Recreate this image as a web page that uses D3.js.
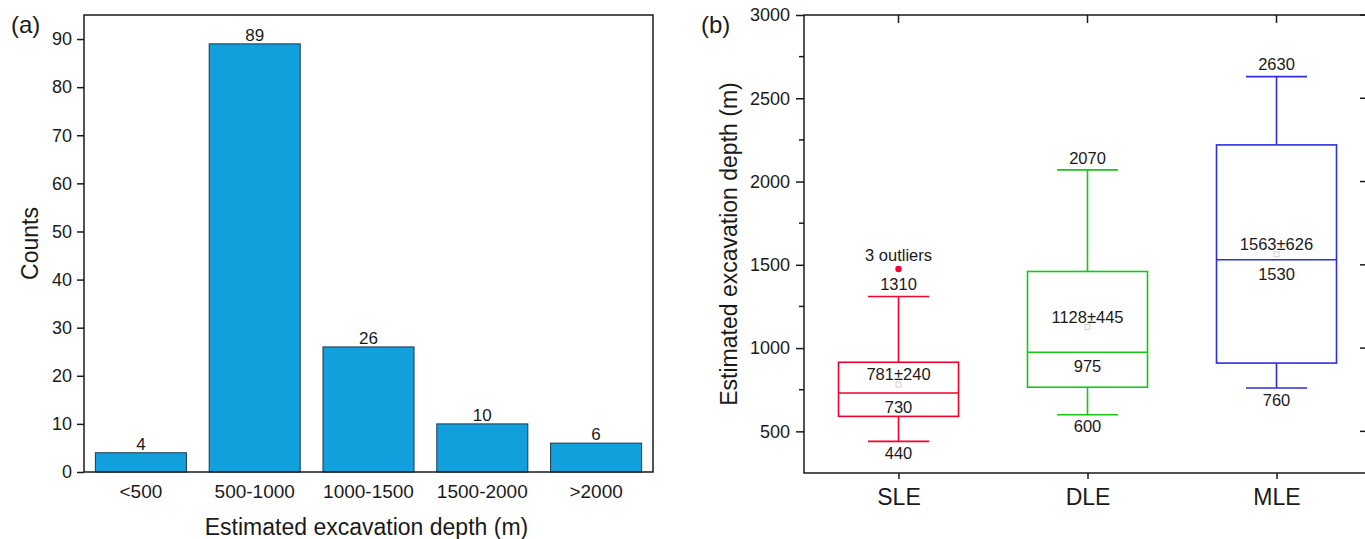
<!DOCTYPE html>
<html>
<head>
<meta charset="utf-8">
<script src="https://cdn.jsdelivr.net/npm/d3@7"></script>
<style>
  html, body { margin: 0; padding: 0; background: #fff; }
  svg { display: block; font-family: Arial, "Liberation Sans", Helvetica, sans-serif; }
</style>
</head>
<body>
<svg id="chart" width="1365" height="539"></svg>
<script>
// ---- Panel (a): histogram of excavation depth ----
const depthBins = ["<500", "500-1000", "1000-1500", "1500-2000", ">2000"];
const binCounts = [4, 89, 26, 10, 6];
const countTicks = [0, 10, 20, 30, 40, 50, 60, 70, 80, 90];

// ---- Panel (b): box plots by ejecta type ----
const ejectaTypes = ["SLE", "DLE", "MLE"];
const whiskerMin = [440, 600, 760];
const boxQ1 = [590, 765, 910];
const boxMedian = [730, 975, 1530];
const boxQ3 = [915, 1460, 2220];
const whiskerMax = [1310, 2070, 2630];
const meanValues = [781, 1128, 1563];
const sdValues = [240, 445, 626];
const outlierValues = [[1475], [], []];
const outlierCounts = [3, 0, 0];
const boxColors = ["#f2002e", "#16c816", "#2e2ee0"];
const depthTicks = [500, 1000, 1500, 2000, 2500, 3000];
const depthMinorTicks = [750, 1250, 1750, 2250, 2750];

const svg = d3.select("#chart");
const ink = "#1a1a1a";

// ================= Panel (a) =================
const A = { left: 84, right: 653, top: 15, bottom: 472 };
const xA = d3.scaleBand().domain(depthBins).range([A.left, A.right]).paddingInner(0.2).paddingOuter(0.1);
const yA = d3.scaleLinear().domain([0, 95]).range([A.bottom, A.top]);
const gA = svg.append("g");

gA.selectAll("rect.bar").data(depthBins).join("rect")
  .attr("class", "bar")
  .attr("x", d => xA(d))
  .attr("width", xA.bandwidth())
  .attr("y", (d, i) => yA(binCounts[i]))
  .attr("height", (d, i) => yA(0) - yA(binCounts[i]))
  .attr("fill", "#12a0dc")
  .attr("stroke", "#1b3a4a")
  .attr("stroke-width", 1);

gA.selectAll("text.val").data(depthBins).join("text")
  .attr("class", "val")
  .attr("x", d => xA(d) + xA.bandwidth() / 2)
  .attr("y", (d, i) => yA(binCounts[i]) - 3)
  .attr("text-anchor", "middle")
  .attr("font-size", 17)
  .attr("fill", ink)
  .text((d, i) => binCounts[i]);

// frame
gA.append("rect")
  .attr("x", A.left).attr("y", A.top)
  .attr("width", A.right - A.left).attr("height", A.bottom - A.top)
  .attr("fill", "none").attr("stroke", ink).attr("stroke-width", 1.5);

const axA = gA.append("g").attr("transform", `translate(${A.left},0)`)
  .call(d3.axisLeft(yA).tickValues(countTicks).tickSize(7).tickPadding(5));
axA.select(".domain").remove();
axA.selectAll("line").attr("stroke", ink).attr("stroke-width", 1.5);
axA.selectAll("text").attr("font-size", 18).attr("fill", ink).attr("font-family", null);

const axAx = gA.append("g").attr("transform", `translate(0,${A.bottom})`)
  .call(d3.axisBottom(xA).tickSize(0).tickPadding(13));
axAx.select(".domain").remove();
axAx.selectAll("text").attr("font-size", 19).attr("fill", ink).attr("font-family", null);

gA.append("text")
  .attr("transform", `translate(30,${(A.top + A.bottom) / 2}) rotate(-90)`)
  .attr("text-anchor", "middle").attr("dy", "0.35em")
  .attr("font-size", 23).attr("fill", ink)
  .text("Counts");

gA.append("text")
  .attr("x", (A.left + A.right) / 2 - 2).attr("y", 535)
  .attr("text-anchor", "middle")
  .attr("font-size", 23).attr("fill", ink)
  .text("Estimated excavation depth (m)");

gA.append("text").attr("x", 11).attr("y", 33)
  .attr("font-size", 24).attr("fill", ink).text("(a)");

// ================= Panel (b) =================
const B = { left: 804, right: 1371, top: 15, bottom: 473 };
const xB = d3.scalePoint().domain(ejectaTypes).range([B.left, B.right]).padding(0.5);
const yB = d3.scaleLinear().domain([250, 3000]).range([B.bottom, B.top]);
const gB = svg.append("g");
const boxW = 120, capW = 61;

// frame
gB.append("rect")
  .attr("x", B.left).attr("y", B.top)
  .attr("width", B.right - B.left).attr("height", B.bottom - B.top)
  .attr("fill", "none").attr("stroke", ink).attr("stroke-width", 1.5);

// left axis with minor ticks
const axBl = gB.append("g").attr("transform", `translate(${B.left},0)`)
  .call(d3.axisLeft(yB).tickValues(depthTicks).tickFormat(d3.format("d")).tickSize(8).tickPadding(6));
axBl.select(".domain").remove();
axBl.selectAll("line").attr("stroke", ink).attr("stroke-width", 1.5);
axBl.selectAll("text").attr("font-size", 18).attr("fill", ink).attr("font-family", null);
gB.append("g").selectAll("line").data(depthMinorTicks).join("line")
  .attr("x1", B.left - 5).attr("x2", B.left)
  .attr("y1", d => yB(d)).attr("y2", d => yB(d))
  .attr("stroke", ink).attr("stroke-width", 1.5);

// right axis ticks (inward)
gB.append("g").selectAll("line").data(depthTicks.concat(depthMinorTicks)).join("line")
  .attr("x1", d => B.right - (depthTicks.includes(d) ? 11 : 5)).attr("x2", B.right)
  .attr("y1", d => yB(d)).attr("y2", d => yB(d))
  .attr("stroke", ink).attr("stroke-width", 1.5);

// bottom axis
const axBb = gB.append("g").attr("transform", `translate(0,${B.bottom})`)
  .call(d3.axisBottom(xB).tickSize(6).tickPadding(10));
axBb.select(".domain").remove();
axBb.selectAll("line").attr("stroke", ink).attr("stroke-width", 1.5);
axBb.selectAll("text").attr("font-size", 23).attr("fill", ink).attr("font-family", null);

// top ticks (inward)
gB.append("g").selectAll("line").data(ejectaTypes).join("line")
  .attr("x1", d => xB(d)).attr("x2", d => xB(d))
  .attr("y1", B.top).attr("y2", B.top + 8)
  .attr("stroke", ink).attr("stroke-width", 1.5);

gB.append("text")
  .attr("transform", `translate(729,${(B.top + B.bottom) / 2}) rotate(-90)`)
  .attr("text-anchor", "middle").attr("dy", "0.35em")
  .attr("font-size", 23).attr("fill", ink)
  .text("Estimated excavation depth (m)");

gB.append("text").attr("x", 701).attr("y", 33)
  .attr("font-size", 24).attr("fill", ink).text("(b)");

// boxes
ejectaTypes.forEach((t, i) => {
  const cx = xB(t), c = boxColors[i];
  const g = gB.append("g").attr("stroke", c).attr("stroke-width", 1.6).attr("fill", "none");
  // whiskers
  g.append("line").attr("x1", cx).attr("x2", cx).attr("y1", yB(whiskerMax[i])).attr("y2", yB(boxQ3[i]));
  g.append("line").attr("x1", cx).attr("x2", cx).attr("y1", yB(boxQ1[i])).attr("y2", yB(whiskerMin[i]));
  g.append("line").attr("x1", cx - capW / 2).attr("x2", cx + capW / 2).attr("y1", yB(whiskerMax[i])).attr("y2", yB(whiskerMax[i]));
  g.append("line").attr("x1", cx - capW / 2).attr("x2", cx + capW / 2).attr("y1", yB(whiskerMin[i])).attr("y2", yB(whiskerMin[i]));
  // box
  g.append("rect").attr("x", cx - boxW / 2).attr("width", boxW)
    .attr("y", yB(boxQ3[i])).attr("height", yB(boxQ1[i]) - yB(boxQ3[i]));
  g.append("line").attr("x1", cx - boxW / 2).attr("x2", cx + boxW / 2)
    .attr("y1", yB(boxMedian[i])).attr("y2", yB(boxMedian[i]));
  // mean marker
  gB.append("rect").attr("x", cx - 2.5).attr("y", yB(meanValues[i]) - 2.5)
    .attr("width", 5).attr("height", 5)
    .attr("fill", "none").attr("stroke", "#bbb").attr("stroke-width", 0.7);
  // outliers
  outlierValues[i].forEach(v => {
    gB.append("circle").attr("cx", cx).attr("cy", yB(v)).attr("r", 3.2).attr("fill", c);
  });
  if (outlierValues[i].length) {
    gB.append("text").attr("x", cx).attr("y", yB(d3.max(outlierValues[i])) - 14)
      .attr("text-anchor", "middle").attr("dy", "0.35em")
      .attr("font-size", 16.5).attr("fill", ink)
      .text(`${outlierCounts[i]} outliers`);
  }
  // labels
  const lab = (y, s) => gB.append("text").attr("x", cx).attr("y", y)
    .attr("text-anchor", "middle").attr("dy", "0.35em")
    .attr("font-size", 16.5).attr("fill", ink).text(s);
  lab(yB(whiskerMax[i]) - 12, whiskerMax[i]);
  lab(yB(whiskerMin[i]) + 12, whiskerMin[i]);
  lab(yB(boxMedian[i]) + 14, boxMedian[i]);
  lab(yB(meanValues[i]) - 10, `${meanValues[i]}±${sdValues[i]}`);
});
</script>
</body>
</html>
